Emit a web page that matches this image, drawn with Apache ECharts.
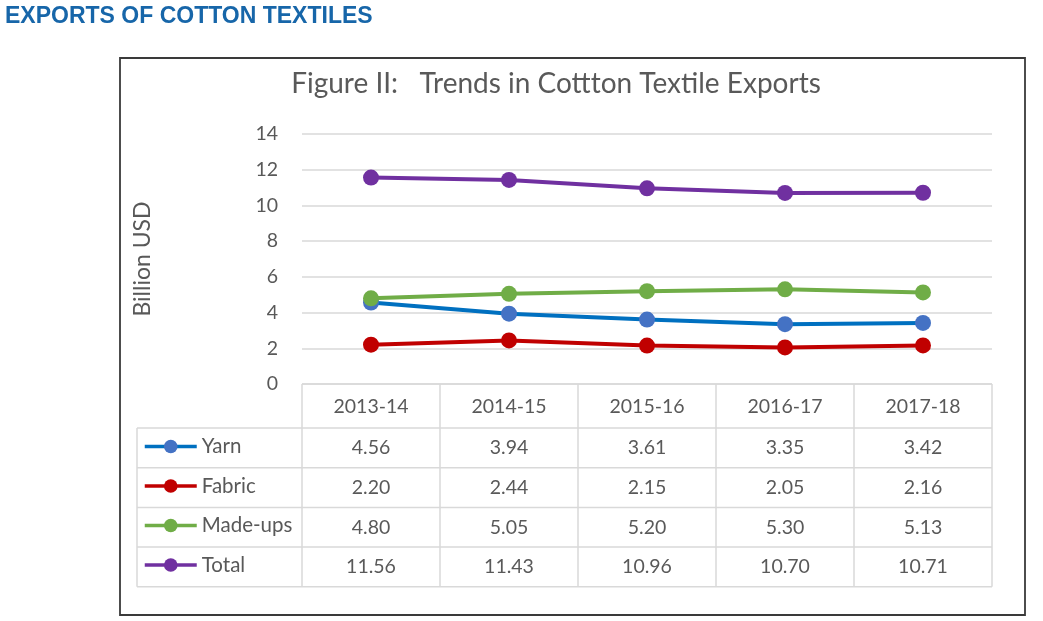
<!DOCTYPE html>
<html><head><meta charset="utf-8">
<script src="https://cdn.jsdelivr.net/npm/echarts/dist/echarts.min.js"></script>
<style>html,body{margin:0;padding:0;background:#fff}#c{width:1043px;height:621px}</style>
</head><body><div id="c"></div>
<script>
const categories = ['2013-14','2014-15','2015-16','2016-17','2017-18'];
const yarn = [4.56,3.94,3.61,3.35,3.42];
const fabric = [2.20,2.44,2.15,2.05,2.16];
const madeups = [4.80,5.05,5.20,5.30,5.13];
const total = [11.56,11.43,10.96,10.70,10.71];
const seriesNames = ['Yarn','Fabric','Made-ups','Total'];
const seriesValues = [yarn, fabric, madeups, total];
const lineColors = ['#0070C0','#C00000','#70AD47','#7030A0'];
const markerColors = ['#4472C4','#C00000','#70AD47','#7030A0'];

const TXT = '#595959';
const FONT = 'Lato';
const GRIDC = '#D9D9D9';

const chart = echarts.init(document.getElementById('c'), null, {renderer:'canvas'});
const option = {
  animation: false,
  title: [
    {text:'EXPORTS OF COTTON TEXTILES', left:5, top:5, padding:0,
     textStyle:{fontFamily:'Liberation Sans', fontWeight:'bold', fontSize:23, color:'#1766A9'}},
    {text:'Figure II:   Trends in Cottton Textile Exports', left:556, top:70, textAlign:'center', padding:0,
     textStyle:{fontFamily:FONT, fontWeight:'normal', fontSize:28, color:TXT}}
  ],
  grid: {left:302, right:51, top:134, bottom:237, containLabel:false},
  legend: {
    orient:'vertical', left:143, top:436, padding:0, itemWidth:52, itemHeight:17, itemGap:18.5,
    data: seriesNames,
    lineStyle:{width:3.5},
    textStyle:{fontFamily:FONT, fontSize:20.5, color:TXT, lineHeight:20}
  },
  xAxis: {
    type:'category', data:categories, boundaryGap:true,
    axisLine:{show:false}, axisTick:{show:false},
    axisLabel:{fontFamily:FONT, fontSize:19.5, color:TXT, margin:13}
  },
  yAxis: {
    type:'value', min:0, max:14, interval:2,
    name:'Billion USD', nameLocation:'middle', nameGap:148,
    nameTextStyle:{fontFamily:FONT, fontSize:23, color:TXT},
    axisLine:{show:false}, axisTick:{show:false},
    axisLabel:{fontFamily:FONT, fontSize:19.5, color:TXT, margin:24},
    splitLine:{lineStyle:{color:GRIDC, width:1.5}}
  },
  series: seriesNames.map((n,i)=>({
    name:n, type:'line', data:seriesValues[i], symbol:'circle', symbolSize:16,
    lineStyle:{color:lineColors[i], width:4},
    itemStyle:{color:markerColors[i]}
  }))
};
chart.setOption(option);

// Data table below the plot, positioned from the axes
const x0 = chart.convertToPixel({xAxisIndex:0}, categories[0]);
const x1 = chart.convertToPixel({xAxisIndex:0}, categories[1]);
const band = x1 - x0;
const colLeft = x0 - band/2;
const colRight = colLeft + band*categories.length;
const tableTop = chart.convertToPixel({yAxisIndex:0}, 0);
const headerH = 44, rowH = 39.7, legendLeft = 137;
const rowTop = i => tableTop + headerH + i*rowH;
const tableBottom = rowTop(seriesNames.length);
const g = [];
const ls = {stroke:GRIDC, lineWidth:1.5};
g.push({type:'rect', shape:{x:120, y:58, width:905, height:557}, style:{fill:'none', stroke:'#3A3A3A', lineWidth:1.8}, z:0});
g.push({type:'line', shape:{x1:colLeft, y1:tableTop, x2:colRight, y2:tableTop}, style:ls});
for (let i=0;i<=seriesNames.length;i++) {
  g.push({type:'line', shape:{x1:legendLeft, y1:rowTop(i), x2:colRight, y2:rowTop(i)}, style:ls});
}
g.push({type:'line', shape:{x1:legendLeft, y1:rowTop(0), x2:legendLeft, y2:tableBottom}, style:ls});
for (let c=0;c<=categories.length;c++) {
  const x = colLeft + c*band;
  g.push({type:'line', shape:{x1:x, y1:tableTop, x2:x, y2:tableBottom}, style:ls});
}
seriesNames.forEach((n,i)=>{
  seriesValues[i].forEach((v,c)=>{
    g.push({type:'text', x: x0 + c*band, y: rowTop(i) + rowH/2,
      style:{text:v.toFixed(2), fontFamily:FONT, fontSize:19.5, fill:TXT, align:'center', verticalAlign:'middle'}});
  });
});
chart.setOption({graphic:g});
</script>
</body></html>
